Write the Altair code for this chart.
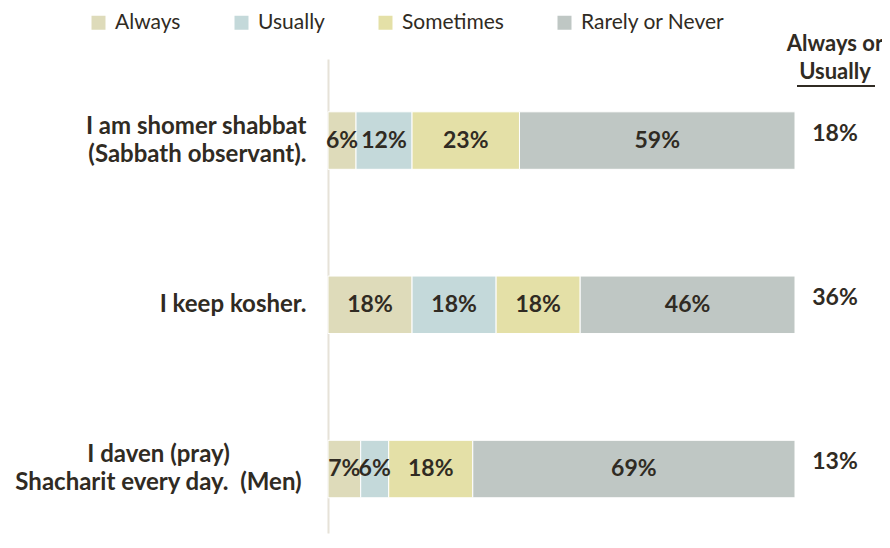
import altair as alt
import pandas as pd

categories = [
    "I am shomer shabbat\n(Sabbath observant).",
    "I keep kosher.",
    "I daven (pray)\nShacharit every day.\u00a0 (Men)",
]
responses = ["Always", "Usually", "Sometimes", "Rarely or Never"]
always = [6, 18, 7]
usually = [12, 18, 6]
sometimes = [23, 18, 18]
rarely = [59, 46, 69]
colors = ["#DEDBBA", "#C4D9DA", "#E4E0A7", "#BFC7C4"]
header_lines = ["Always or", "Usually"]

FONT = "Lato"
TXT = "#302B23"

wide = pd.DataFrame({
    "category": categories,
    "Always": always,
    "Usually": usually,
    "Sometimes": sometimes,
    "Rarely or Never": rarely,
})
long = wide.melt(id_vars="category", var_name="response", value_name="value")
long["order"] = long["response"].map({r: i for i, r in enumerate(responses)})

W, H = 467, 474

y_scale = alt.Scale(paddingInner=0.65, paddingOuter=0.268, align=0.6)

multi = "indexof(datum.value, '\\n') >= 0"
centered = "indexof(datum.value, '(Men)') >= 0"

y_enc = alt.Y(
    "category:N",
    sort=categories,
    scale=y_scale,
    axis=alt.Axis(
        title=None,
        ticks=False,
        grid=False,
        domain=True,
        domainColor="#E6E2D8",
        domainWidth=2,
        labelExpr="split(datum.label, '\\n')",
        labelFont=FONT,
        labelFontSize=24,
        labelFontWeight="bold",
        labelColor=TXT,
        labelPadding={"condition": {"test": centered, "value": 170}, "value": 22},
        labelOffset={"condition": {"test": multi, "value": -14}, "value": 0},
        labelAlign={"condition": {"test": centered, "value": "center"}, "value": "right"},
        labelLineHeight=28,
        labelLimit=400,
    ),
)
y_plain = alt.Y("category:N", sort=categories)

base = alt.Chart(long).transform_stack(
    stack="value", groupby=["category"], as_=["x0", "x1"],
    sort=[alt.SortField("order", order="ascending")],
).transform_calculate(
    mid="(datum.x0 + datum.x1) / 2",
    label="datum.value + '%'",
)

x_scale = alt.Scale(domain=[0, 100], nice=False)

bars = base.mark_bar(stroke="white", strokeWidth=1).encode(
    x=alt.X("x0:Q", scale=x_scale, axis=None),
    x2="x1:Q",
    y=y_enc,
    color=alt.Color(
        "response:N",
        scale=alt.Scale(domain=responses, range=colors),
        legend=alt.Legend(
            title=None,
            orient="none",
            direction="horizontal",
            legendX=-240,
            legendY=-47,
            symbolType="square",
            symbolSize=196,
            symbolStrokeWidth=0,
            symbolOpacity=1,
            labelFont=FONT,
            labelFontSize=21,
            labelColor=TXT,
            labelOffset=6,
            columnPadding=50,
            labelLimit=300,
        ),
    ),
)

bar_text = base.mark_text(
    font=FONT, fontSize=23, fontWeight="bold", color=TXT
).encode(
    x=alt.X("mid:Q", scale=x_scale, axis=None),
    y=y_plain,
    text="label:N",
)

totals = alt.Chart(wide).transform_calculate(
    total="(datum.Always + datum.Usually) + '%'"
).mark_text(
    font=FONT, fontSize=23, fontWeight="bold", color=TXT, dy=-7
).encode(
    x=alt.value(507),
    y=y_plain,
    text="total:N",
)

hdr = pd.DataFrame({"t": header_lines, "i": [0, 1]})
header1 = alt.Chart(hdr).transform_filter("datum.i == 0").mark_text(
    font=FONT, fontSize=22, fontWeight="bold", color=TXT
).encode(x=alt.value(507), y=alt.value(-15), text="t:N")
header2 = alt.Chart(hdr).transform_filter("datum.i == 1").mark_text(
    font=FONT, fontSize=22, fontWeight="bold", color=TXT
).encode(x=alt.value(507), y=alt.value(13), text="t:N")
underline = alt.Chart(hdr).transform_filter("datum.i == 1").mark_rule(
    color=TXT, strokeWidth=2
).encode(x=alt.value(469), x2=alt.value(547), y=alt.value(27))

chart = alt.layer(bars, bar_text, totals, header1, header2, underline).properties(
    width=W,
    height=H,
    autosize=alt.AutoSizeParams(type="none"),
    padding={"left": 320, "top": 51, "right": 87, "bottom": 5},
).configure_view(stroke=None)

chart.save("out.html", embed_options={"renderer": "svg", "actions": False})
